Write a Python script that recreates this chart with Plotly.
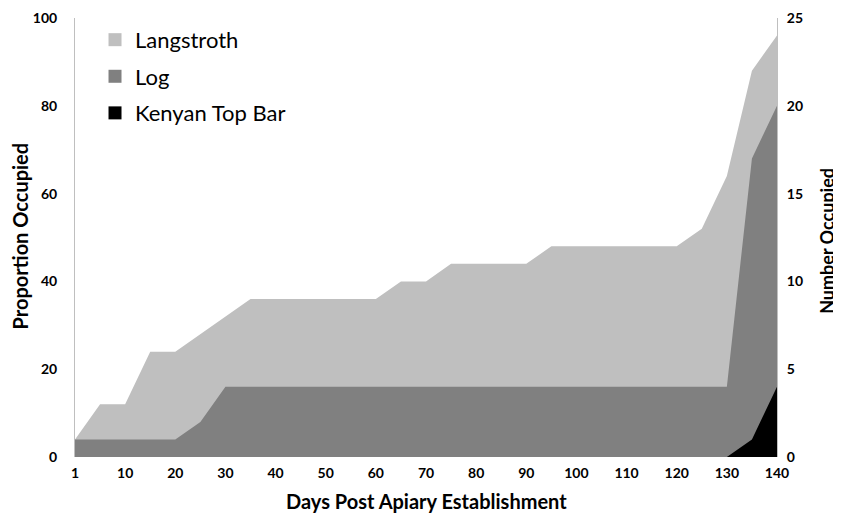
import plotly.graph_objects as go

days = [1, 5, 10, 15, 20, 25, 30, 35, 40, 45, 50, 55, 60, 65, 70, 75, 80, 85, 90,
        95, 100, 105, 110, 115, 120, 125, 130, 135, 140]
langstroth = [4, 12, 12, 24, 24, 28, 32, 36, 36, 36, 36, 36, 36, 40, 40, 44, 44, 44, 44,
              48, 48, 48, 48, 48, 48, 52, 64, 88, 96]
log_hive = [4, 4, 4, 4, 4, 8, 16, 16, 16, 16, 16, 16, 16, 16, 16, 16, 16, 16, 16,
            16, 16, 16, 16, 16, 16, 16, 16, 68, 80]
kenyan = [0, 0, 0, 0, 0, 0, 0, 0, 0, 0, 0, 0, 0, 0, 0, 0, 0, 0, 0,
          0, 0, 0, 0, 0, 0, 0, 0, 4, 16]
x_tick_labels = [1, 10, 20, 30, 40, 50, 60, 70, 80, 90, 100, 110, 120, 130, 140]
left_ticks = [0, 20, 40, 60, 80, 100]
right_ticks = [0, 5, 10, 15, 20, 25]

names = ["Langstroth", "Log", "Kenyan Top Bar"]
series = [langstroth, log_hive, kenyan]
colors = ["#BFBFBF", "#808080", "#000000"]

xcat = [str(d) for d in days]
FONT = "Lato"

fig = go.Figure()
for name, vals, col in zip(names, series, colors):
    fig.add_trace(go.Scatter(
        x=xcat, y=vals, mode="lines", fill="tozeroy", fillcolor=col,
        line=dict(width=0, color=col), showlegend=False, hoverinfo="skip"))
for name, col in zip(names, colors):
    fig.add_trace(go.Scatter(
        x=[None], y=[None], mode="markers", name=name, legendgroup=name,
        marker=dict(symbol="square", size=13, color=col)))

# invisible trace to activate right axis
fig.add_trace(go.Scatter(x=[xcat[0]], y=[0], yaxis="y2", mode="markers",
                         marker=dict(opacity=0), showlegend=False, hoverinfo="skip"))

fig.update_layout(
    width=833, height=507,
    margin=dict(l=67, r=64, t=10, b=58),
    plot_bgcolor="white", paper_bgcolor="white",
    font=dict(family=FONT, color="black"),
    xaxis=dict(type="category", range=[0, len(days) - 1], automargin=False,
               tickvals=[str(v) for v in x_tick_labels],
               ticktext=[str(v) for v in x_tick_labels],
               tickfont=dict(size=14, family=FONT, weight="bold"),
               ticklabelstandoff=6,
               showgrid=False, showline=False, ticks=""),
    yaxis=dict(range=[0, 100], tickvals=left_ticks, automargin=False,
               tickfont=dict(size=14, weight="bold"), ticklabelstandoff=14,
               showgrid=False, showline=True, linecolor="#BFBFBF", linewidth=1,
               ticks="", zeroline=False),
    yaxis2=dict(range=[0, 25], tickvals=right_ticks, overlaying="y", side="right",
                automargin=False,
                tickfont=dict(size=14, weight="bold"), ticklabelstandoff=6,
                showgrid=False, showline=True, linecolor="#BFBFBF", linewidth=1,
                ticks="", zeroline=False),
    legend=dict(x=0.0285, y=0.998, xanchor="left", yanchor="top",
                font=dict(size=22, family=FONT), tracegroupgap=5,
                bgcolor="rgba(0,0,0,0)", itemwidth=30),
    annotations=[
        dict(text="<b>Days Post Apiary Establishment</b>", xref="paper", yref="paper",
             x=0.5, y=-0.10, xanchor="center", yanchor="middle", showarrow=False,
             font=dict(size=20)),
        dict(text="<b>Proportion Occupied</b>", xref="paper", yref="paper",
             x=-0.078, y=0.503, xanchor="center", yanchor="middle", showarrow=False,
             textangle=-90, font=dict(size=20)),
        dict(text="<b>Number Occupied</b>", xref="paper", yref="paper",
             x=1.071, y=0.492, xanchor="center", yanchor="middle", showarrow=False,
             textangle=-90, font=dict(size=18)),
    ],
)

fig.write_html("out.html")
